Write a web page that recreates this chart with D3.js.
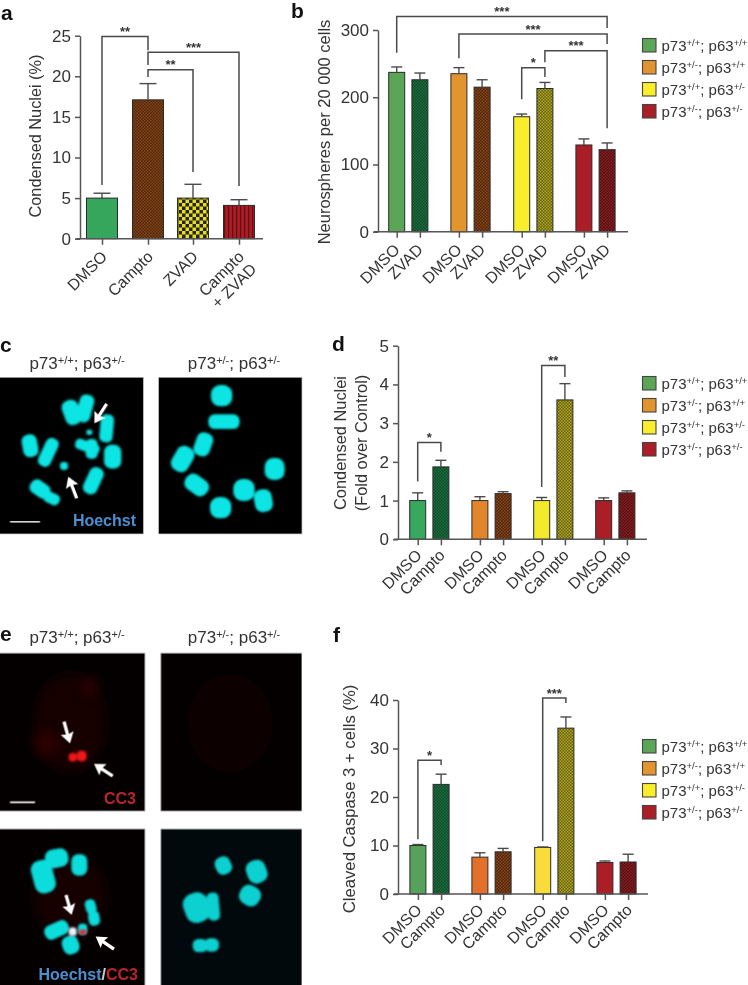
<!DOCTYPE html>
<html>
<head>
<meta charset="utf-8">
<script src="https://cdnjs.cloudflare.com/ajax/libs/d3/7.8.5/d3.min.js"></script>
<style>
  html, body { margin: 0; padding: 0; background: #fff; }
  svg { display: block; filter: blur(0.35px); }
  text { font-family: "Liberation Sans", Arial, sans-serif; fill: #333; }
</style>
</head>
<body>
<svg id="fig" width="748" height="985"></svg>
<script>
// ---- data ----
const categoriesA = ["DMSO", "Campto", "ZVAD", "Campto\n+ ZVAD"];
const valuesA = [5.0, 17.1, 5.0, 4.1];
const errorsA = [5.6, 19.1, 6.7, 4.8];
const ticksA = [0, 5, 10, 15, 20, 25];

const genotypes = ["p73+/+; p63+/+", "p73+/-; p63+/+", "p73+/+; p63+/-", "p73+/-; p63+/-"];

const conditionsB = ["DMSO", "ZVAD"];
const valuesB = [237, 226, 235, 215, 171, 213, 129, 122];
const errorsB = [245, 236, 244, 226, 175, 222, 138, 132];
const ticksB = [0, 100, 200, 300];

const conditionsD = ["DMSO", "Campto"];
const valuesD = [1, 1.87, 1, 1.18, 1, 3.6, 1, 1.2];
const errorsD = [1.2, 2.04, 1.1, 1.23, 1.08, 4.02, 1.07, 1.25];
const ticksD = [0, 1, 2, 3, 4, 5];

const valuesF = [10, 22.6, 7.6, 8.7, 9.6, 34.2, 6.5, 6.6];
const errorsF = [10.2, 24.7, 8.5, 9.4, 9.7, 36.5, 6.8, 8.2];
const ticksF = [0, 10, 20, 30, 40];

// significance brackets: bar from, bar to, top, left end, right end (all in axis units)
const bracketsA = [
  [0, 1, 24.9, 6.6, 23.2, "**"],
  [1, 3, 22.95, 21.4, 6.5, "***"],
  [1, 2, 20.8, 19.9, 8.2, "**"]
];
const bracketsB = [
  [0, 7, 320, 266, 303, "***"],
  [2, 7, 294, 258, 279, "***"],
  [5, 7, 269, 252, 154, "***"],
  [4, 5, 244, 197, 230, "*"]
];
const bracketsD = [
  [0, 1, 2.5, 1.49, 2.26, "*"],
  [4, 5, 4.49, 1.35, 4.19, "**"]
];
const bracketsF = [
  [0, 1, 27.6, 11.3, 26.6, "*"],
  [4, 5, 40.4, 10.9, 39.4, "***"]
];

// ---- colours ----
const svg = d3.select("#fig");
const defs = svg.append("defs");

function checker(id, bg, fg, size) {
  const p = defs.append("pattern").attr("id", id)
    .attr("width", size).attr("height", size)
    .attr("patternUnits", "userSpaceOnUse");
  p.append("rect").attr("width", size).attr("height", size).attr("fill", bg);
  p.append("rect").attr("width", size / 2).attr("height", size / 2).attr("fill", fg);
  p.append("rect").attr("x", size / 2).attr("y", size / 2).attr("width", size / 2).attr("height", size / 2).attr("fill", fg);
}
checker("pGreen", "#0c4a26", "#1f7040", 3);
checker("pBrown", "#4f2308", "#85461a", 3);
checker("pOlive", "#5f5a10", "#b5ad1e", 3);
checker("pDarkRed", "#4f0e10", "#8c1f24", 3);
checker("pYellowBig", "#26240a", "#e6dd2a", 7);
const stripes = defs.append("pattern").attr("id", "pRedLines")
  .attr("width", 4).attr("height", 4).attr("patternUnits", "userSpaceOnUse");
stripes.append("rect").attr("width", 4).attr("height", 4).attr("fill", "#a81c24");
stripes.append("rect").attr("width", 1.2).attr("height", 4).attr("fill", "#5e1014");

defs.append("filter").attr("id", "soft").append("feGaussianBlur").attr("stdDeviation", 2.5);
defs.append("filter").attr("id", "haze")
  .attr("x", "-60%").attr("y", "-60%").attr("width", "220%").attr("height", "220%")
  .append("feGaussianBlur").attr("stdDeviation", 18);

const fillsA = ["#36a65c", "url(#pBrown)", "url(#pYellowBig)", "url(#pRedLines)"];
const fillsB = ["#5aa556", "url(#pGreen)", "#e2942e", "url(#pBrown)", "#f9ee2c", "url(#pOlive)", "#ab1e25", "url(#pDarkRed)"];
const fillsD = ["#38a85e", "url(#pGreen)", "#e2862e", "url(#pBrown)", "#f4ea2c", "url(#pOlive)", "#ab1e25", "url(#pDarkRed)"];
const fillsF = ["#57a25a", "url(#pGreen)", "#e2702c", "url(#pBrown)", "#f8dc3a", "url(#pOlive)", "#ab1e25", "url(#pDarkRed)"];
const legendFills = ["#5aa556", "#e2942e", "#f9ee2c", "#ab1e25"];

// ---- helpers ----
function genotypeText(sel, label, supSize) {
  // "p73+/+; p63+/-" -> normal text with raised allele marks
  const m = label.match(/^(p73)(\S+); (p63)(\S+)$/);
  sel.append("tspan").text(m[1]);
  sel.append("tspan").attr("dy", -5).style("font-size", supSize + "px").text(m[2]);
  sel.append("tspan").attr("dy", 5).text("; " + m[3]);
  sel.append("tspan").attr("dy", -5).style("font-size", supSize + "px").text(m[4]);
}

function drawBarPanel(o) {
  const g = svg.append("g");
  const y = d3.scaleLinear().domain(o.yDomain).range(o.yRange);
  const keys = o.values.map((d, i) => i);
  const xs = d3.scaleOrdinal().domain(keys).range(o.positions);

  // bars
  g.selectAll("rect.bar").data(o.values).join("rect")
    .attr("class", "bar")
    .attr("x", (d, i) => xs(i) - o.barWidth / 2)
    .attr("width", o.barWidth)
    .attr("y", d => y(d))
    .attr("height", d => y(0) - y(d))
    .attr("fill", (d, i) => o.fills[i])
    .attr("stroke", "#2b2b2b").attr("stroke-width", 1);

  // error whiskers
  g.selectAll("line.err").data(o.errors).join("line")
    .attr("class", "err")
    .attr("x1", (d, i) => xs(i)).attr("x2", (d, i) => xs(i))
    .attr("y1", (d, i) => y(o.values[i])).attr("y2", d => y(d))
    .attr("stroke", "#4a4a4a").attr("stroke-width", 1.4);
  g.selectAll("line.cap").data(o.errors).join("line")
    .attr("class", "cap")
    .attr("x1", (d, i) => xs(i) - o.capWidth / 2).attr("x2", (d, i) => xs(i) + o.capWidth / 2)
    .attr("y1", d => y(d)).attr("y2", d => y(d))
    .attr("stroke", "#4a4a4a").attr("stroke-width", 1.4);

  // axes
  const yAxis = g.append("g").attr("transform", `translate(${o.axisX},0)`)
    .call(d3.axisLeft(y).tickValues(o.ticks).tickFormat(d3.format("d")).tickSize(5).tickSizeOuter(0).tickPadding(4));
  yAxis.selectAll("text").style("font-size", o.fontSize + "px").attr("fill", "#333");

  const xAxis = g.append("g").attr("transform", `translate(0,${y(0)})`)
    .call(d3.axisBottom(xs).tickSize(6).tickFormat(""));
  xAxis.select(".domain").remove();
  g.append("line").attr("x1", o.axisX - 4).attr("x2", o.axisEnd)
    .attr("y1", y(0)).attr("y2", y(0)).attr("stroke", "#555").attr("stroke-width", 1.5);
  g.selectAll(".domain, .tick line").attr("stroke", "#555").attr("stroke-width", 1.5);

  // rotated category labels
  const labels = g.selectAll("text.cat").data(o.labels).join("text")
    .attr("class", "cat")
    .attr("text-anchor", "end")
    .style("font-size", o.labelSize + "px")
    .attr("transform", (d, i) => `translate(${xs(i) + o.labelDx},${y(0) + o.labelDy}) rotate(-45)`);
  labels.each(function (d) {
    d.split("\n").forEach((line, k) => {
      d3.select(this).append("tspan").attr("x", 0).attr("dy", k ? "1.1em" : 0).text(line);
    });
  });

  // axis title
  const title = g.append("text")
    .attr("transform", `translate(${o.titleX},${(o.titleY)}) rotate(-90)`)
    .attr("text-anchor", "middle")
    .style("font-size", o.titleSize + "px");
  o.title.forEach((line, k) => {
    title.append("tspan").attr("x", 0).attr("dy", k ? "1.25em" : 0).text(line);
  });

  // brackets
  o.brackets.forEach(b => {
    const x0 = xs(b[0]), x1 = xs(b[1]);
    g.append("path")
      .attr("d", d3.line()([[x0, y(b[3])], [x0, y(b[2])], [x1, y(b[2])], [x1, y(b[4])]]))
      .attr("fill", "none").attr("stroke", "#4a4a4a").attr("stroke-width", 1.5);
    g.append("text").attr("x", (x0 + x1) / 2).attr("y", y(b[2]) - 0.5)
      .attr("text-anchor", "middle")
      .style("font-size", "13px").style("font-weight", "bold").text(b[5]);
  });
}

function drawLegend(x, y0) {
  const step = 22;
  const g = svg.append("g");
  genotypes.forEach((label, i) => {
    g.append("rect").attr("x", x).attr("y", y0 + i * step - 6.5).attr("width", 13.5).attr("height", 13.5)
      .attr("fill", legendFills[i]).attr("stroke", "#444").attr("stroke-width", 1.1);
    const t = g.append("text").attr("x", x + 19).attr("y", y0 + i * step + 5.5).style("font-size", "15px");
    genotypeText(t, label, 9.5);
  });
}

function panelLetter(letter, x, y) {
  svg.append("text").attr("x", x).attr("y", y)
    .style("font-size", "21px").style("font-weight", "bold").style("fill", "#111").text(letter);
}

function groupPositions(centers, offset) {
  const pos = [];
  centers.forEach(c => { pos.push(c - offset, c + offset); });
  return pos;
}
function pairLabels(conds) {
  return genotypes.flatMap(() => conds);
}

// ---- bar panels ----
drawBarPanel({
  values: valuesA, errors: errorsA, fills: fillsA, ticks: ticksA, labels: categoriesA, brackets: bracketsA,
  yDomain: [0, 25], yRange: [238.7, 35.7], positions: [102, 148, 193, 239],
  barWidth: 31, capWidth: 17, axisX: 80, axisEnd: 263, fontSize: 17, labelSize: 16, labelDx: 6, labelDy: 19,
  title: ["Condensed Nuclei (%)"], titleX: 41, titleY: 136, titleSize: 16.3
});
drawBarPanel({
  values: valuesB, errors: errorsB, fills: fillsB, ticks: ticksB, labels: pairLabels(conditionsB), brackets: bracketsB,
  yDomain: [0, 300], yRange: [231.7, 30], positions: groupPositions([408.3, 470.5, 533.3, 595.5], 11.6),
  barWidth: 16, capWidth: 11, axisX: 378, axisEnd: 628, fontSize: 17, labelSize: 16, labelDx: 4, labelDy: 19,
  title: ["Neurospheres per 20 000 cells"], titleX: 330, titleY: 132, titleSize: 16.5
});
drawBarPanel({
  values: valuesD, errors: errorsD, fills: fillsD, ticks: ticksD, labels: pairLabels(conditionsD), brackets: bracketsD,
  yDomain: [0, 5], yRange: [539.3, 345.7], positions: groupPositions([429.3, 491.5, 553.3, 615.3], 11.6),
  barWidth: 16, capWidth: 11, axisX: 398, axisEnd: 647, fontSize: 17, labelSize: 16, labelDx: 5, labelDy: 17,
  title: ["Condensed Nuclei", "(Fold over Control)"], titleX: 346, titleY: 443, titleSize: 16.4
});
drawBarPanel({
  values: valuesF, errors: errorsF, fills: fillsF, ticks: ticksF, labels: pairLabels(conditionsD), brackets: bracketsF,
  yDomain: [0, 40], yRange: [894, 700], positions: groupPositions([429.5, 491.5, 554.3, 616.5], 11.6),
  barWidth: 16, capWidth: 11, axisX: 398, axisEnd: 648, fontSize: 17, labelSize: 16, labelDx: 5, labelDy: 17,
  title: ["Cleaved Caspase 3 + cells (%)"], titleX: 355, titleY: 799, titleSize: 16.7
});

drawLegend(642.5, 45);
drawLegend(642.5, 383);
drawLegend(642.5, 746);

panelLetter("a", 1, 20);
panelLetter("b", 291, 18);
panelLetter("c", 0, 352);
panelLetter("d", 332, 351);
panelLetter("e", 0, 641);
panelLetter("f", 333, 642);

// ---- micrographs: [cx, cy, rx, ry, angle], in 3x crop units ----
const nucleiCLeft = [
  [215, 262, 25, 38, -20], [255, 250, 22, 42, 15], [320, 310, 20, 42, 5], [268, 322, 9, 8, 0],
  [262, 365, 38, 16, 20], [275, 372, 18, 30, 0], [90, 362, 23, 34, -10], [145, 382, 20, 45, 25],
  [338, 395, 26, 36, 0], [192, 423, 12, 12, 0], [280, 467, 22, 42, 25], [120, 492, 32, 22, 35], [155, 520, 25, 17, 25]
];
const nucleiCRight = [
  [665, 212, 32, 32, 0], [672, 290, 47, 22, 0], [610, 358, 25, 36, 20], [548, 402, 28, 40, 30],
  [590, 480, 38, 26, 35], [732, 495, 32, 33, 0], [662, 548, 32, 32, 0], [790, 527, 27, 34, -10], [824, 432, 30, 33, 0]
];
const nucleiELeft = [
  [130, 800, 32, 50, -15], [170, 745, 35, 28, -10], [238, 765, 24, 32, 0], [272, 890, 16, 22, -15],
  [282, 925, 17, 22, -10], [170, 960, 38, 22, -25], [212, 1005, 25, 28, -20], [248, 958, 14, 17, 0]
];
const nucleiERight = [
  [670, 767, 24, 27, -25], [770, 785, 30, 35, -20], [750, 857, 32, 30, 30],
  [590, 893, 38, 45, -20], [640, 890, 18, 42, -5], [600, 1007, 22, 20, 0], [635, 1005, 22, 20, 0]
];

const micro = svg.append("g").attr("transform", "scale(0.3333)");

function panelBox(x0, y0, x1, y1, color) {
  micro.append("rect").attr("x", x0).attr("y", y0).attr("width", x1 - x0).attr("height", y1 - y0)
    .attr("fill", color).attr("stroke", "#bbb").attr("stroke-width", 2);
}
function blobs(list, dy, color) {
  // rounded boxes look closer to the squat nuclei than plain ellipses
  micro.append("g").attr("filter", "url(#soft)").attr("transform", `translate(0,${dy})`)
    .selectAll("rect").data(list).join("rect")
    .attr("transform", d => `translate(${d[0]},${d[1]}) rotate(${d[4]})`)
    .attr("x", d => -d[2]).attr("y", d => -d[3])
    .attr("width", d => 2 * d[2]).attr("height", d => 2 * d[3])
    .attr("rx", d => 0.85 * Math.min(d[2], d[3])).attr("ry", d => 0.85 * Math.min(d[2], d[3]))
    .attr("fill", color);
}
function whiteArrow(tipX, tipY, tailX, tailY) {
  const a = Math.atan2(tailY - tipY, tailX - tipX) * 180 / Math.PI;
  const len = Math.hypot(tailX - tipX, tailY - tipY);
  micro.append("path")
    .attr("transform", `translate(${tipX},${tipY}) rotate(${a})`)
    .attr("d", `M0,0 L32,-20 L28,-5 L${len},-5 L${len},5 L28,5 L32,20 Z`)
    .attr("fill", "#fff");
}
function scaleBar(x0, x1, y) {
  micro.append("line").attr("x1", x0).attr("x2", x1).attr("y1", y).attr("y2", y)
    .attr("stroke", "#fff").attr("stroke-width", 5);
}
function haze(cx, cy, rx, ry, color) {
  micro.append("ellipse").attr("cx", cx).attr("cy", cy).attr("rx", rx).attr("ry", ry)
    .attr("fill", color).attr("filter", "url(#haze)");
}

const cy = 975; // crop c started at y = 325
panelBox(-4, cy + 157, 430, cy + 627, "#000");
panelBox(476, cy + 157, 906, cy + 627, "#000");
blobs(nucleiCLeft, cy, "#10e4e4");
blobs(nucleiCRight, cy, "#10e4e4");
whiteArrow(283, cy + 295, 320, cy + 237);
whiteArrow(205, cy + 455, 230, cy + 520);
scaleBar(30, 120, cy + 590);

const ey = 1830; // crop e started at y = 610
panelBox(-4, ey + 130, 435, ey + 603, "#040000");
panelBox(482, ey + 130, 906, ey + 603, "#040000");
haze(210, ey + 340, 110, 150, "#170202");
haze(140, ey + 400, 40, 40, "#2c0505");
haze(270, ey + 230, 25, 30, "#2c0505");
haze(690, ey + 340, 130, 150, "#070101");
blobs([[218, 442, 12, 13, 0], [245, 438, 15, 16, 0]], ey, "#f01818");
whiteArrow(210, ey + 400, 192, ey + 335);
whiteArrow(282, ey + 462, 338, ey + 498);
scaleBar(30, 105, ey + 577);

panelBox(-4, ey + 657, 435, ey + 1130, "#050000");
panelBox(482, ey + 657, 906, ey + 1130, "#01090c");
haze(210, ey + 860, 110, 130, "#170202");
blobs(nucleiELeft, ey, "#10dcdc");
blobs(nucleiERight, ey, "#10d0d0");
blobs([[218, 965, 12, 13, 0]], ey, "#eef4ff");
blobs([[248, 966, 11, 7, 0]], ey, "#f02030");
whiteArrow(215, ey + 915, 198, ey + 855);
whiteArrow(287, ey + 980, 342, ey + 1018);

// ---- micrograph captions ----
const capTitles = [
  [77, 369, genotypes[2]], [234, 369, genotypes[3]],
  [77, 643, genotypes[2]], [234, 643, genotypes[3]]
];
capTitles.forEach(c => {
  const t = svg.append("text").attr("x", c[0]).attr("y", c[1]).attr("text-anchor", "middle").style("font-size", "17px");
  genotypeText(t, c[2], 11);
});

function stain(x, y, parts) {
  const t = svg.append("text").attr("x", x).attr("y", y).attr("text-anchor", "end")
    .style("font-size", "16px").style("font-weight", "bold");
  parts.forEach(p => t.append("tspan").style("fill", p[1]).text(p[0]));
}
stain(136, 526, [["Hoechst", "#4a90d0"]]);
stain(136, 804, [["CC3", "#b8262c"]]);
stain(138, 980, [["Hoechst", "#4a90d0"], ["/", "#ccc"], ["CC3", "#b8262c"]]);
</script>
</body>
</html>
